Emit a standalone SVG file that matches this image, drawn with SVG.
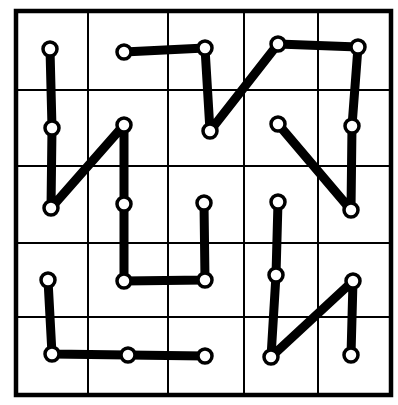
<svg xmlns="http://www.w3.org/2000/svg" width="398" height="405" viewBox="0 0 398 405">
<style>
.grid{stroke:#000;stroke-width:2;fill:none}
.border{stroke:#000;stroke-width:4.5;fill:none}
.edge{stroke:#000;stroke-width:9;stroke-linecap:round;stroke-linejoin:round;fill:none}
.dot{fill:#fff;stroke:#000;stroke-width:3.5}
</style>
<rect width="398" height="405" fill="#fff"/>
<g id="grid">
<line class="grid" x1="88" y1="11" x2="88" y2="395"/>
<line class="grid" x1="168" y1="11" x2="168" y2="395"/>
<line class="grid" x1="244" y1="11" x2="244" y2="395"/>
<line class="grid" x1="318" y1="11" x2="318" y2="395"/>
<line class="grid" x1="16" y1="90" x2="391" y2="90"/>
<line class="grid" x1="16" y1="166" x2="391" y2="166"/>
<line class="grid" x1="16" y1="243" x2="391" y2="243"/>
<line class="grid" x1="16" y1="317" x2="391" y2="317"/>
<rect class="border" x="16" y="11" width="375" height="384"/>
</g>
<g id="connectors">
<polyline class="edge" points="50,49 52,128 51,208 124,125 124,204 124,281 205,280 204,203"/>
<polyline class="edge" points="48,280 52,354 128,355 205,356"/>
<polyline class="edge" points="124,52 205,48 210,131 278,44 358,47 352,126 351,210 278,124"/>
<polyline class="edge" points="278,202 276,275 271,357 353,281 351,355"/>
</g>
<g id="nodes">
<circle id="n1" class="dot" cx="50" cy="49" r="7"/>
<circle id="n2" class="dot" cx="52" cy="128" r="7"/>
<circle id="n3" class="dot" cx="51" cy="208" r="7"/>
<circle id="n4" class="dot" cx="124" cy="125" r="7"/>
<circle id="n5" class="dot" cx="124" cy="204" r="7"/>
<circle id="n6" class="dot" cx="124" cy="281" r="7"/>
<circle id="n7" class="dot" cx="205" cy="280" r="7"/>
<circle id="n8" class="dot" cx="204" cy="203" r="7"/>
<circle id="n9" class="dot" cx="48" cy="280" r="7"/>
<circle id="n10" class="dot" cx="52" cy="354" r="7"/>
<circle id="n11" class="dot" cx="128" cy="355" r="7"/>
<circle id="n12" class="dot" cx="205" cy="356" r="7"/>
<circle id="n13" class="dot" cx="124" cy="52" r="7"/>
<circle id="n14" class="dot" cx="205" cy="48" r="7"/>
<circle id="n15" class="dot" cx="210" cy="131" r="7"/>
<circle id="n16" class="dot" cx="278" cy="44" r="7"/>
<circle id="n17" class="dot" cx="358" cy="47" r="7"/>
<circle id="n18" class="dot" cx="352" cy="126" r="7"/>
<circle id="n19" class="dot" cx="351" cy="210" r="7"/>
<circle id="n20" class="dot" cx="278" cy="124" r="7"/>
<circle id="n21" class="dot" cx="278" cy="202" r="7"/>
<circle id="n22" class="dot" cx="276" cy="275" r="7"/>
<circle id="n23" class="dot" cx="271" cy="357" r="7"/>
<circle id="n24" class="dot" cx="353" cy="281" r="7"/>
<circle id="n25" class="dot" cx="351" cy="355" r="7"/>
</g>
</svg>
